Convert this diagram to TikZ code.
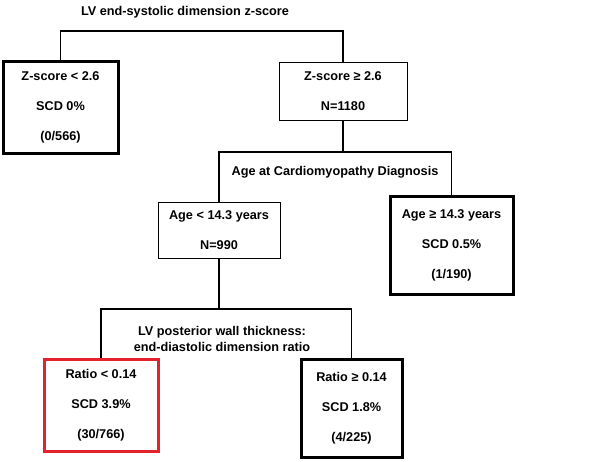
\documentclass[tikz,border=0pt]{standalone}
\usepackage{fontspec}
\setmainfont{Liberation Sans}
\usepackage{xcolor}
\definecolor{leafred}{RGB}{226, 35, 45}
\usepackage{tikz}
\usetikzlibrary{positioning}

\begin{document}
\begin{tikzpicture}[
    x=1pt, y=-1pt,
    txt/.style={font=\bfseries\fontsize{12.7}{30}\selectfont, align=center, inner sep=0pt},
    splitbox/.style={txt, draw, line width=0.9pt},
    leafbox/.style={txt, draw, line width=3pt},
    splitlbl/.style={font=\bfseries\fontsize{12.7}{16.5}\selectfont, align=center, inner sep=0pt},
    bline/.style={line width=1.6pt}
]
\useasboundingbox (0,0) rectangle (601,461);

% split labels
\node[splitlbl] (title)  at (185,12)  {LV end-systolic dimension z-score};
\node[splitlbl] (agelbl) at (335,172) {Age at Cardiomyopathy Diagnosis};
\node[splitlbl] (wallbl) at (222,339) {LV posterior wall thickness:\\end-diastolic dimension ratio};

% first split
\node[leafbox, minimum width=115pt, minimum height=92pt] (zlo) at (60.5,107) {Z-score < 2.6\\SCD 0\%\\(0/566)};
\node[splitbox, minimum width=128pt, minimum height=58pt] (zhi) at (343,91) {Z-score ≥ 2.6\\N=1180};

% second split
\node[splitbox, minimum width=122pt, minimum height=56pt] (agelo) at (219,230) {Age < 14.3 years\\N=990};
\node[leafbox, minimum width=123pt, minimum height=98pt] (agehi) at (451.5,245) {Age ≥ 14.3 years\\SCD 0.5\%\\(1/190)};

% third split
\node[leafbox, draw=leafred, minimum width=114pt, minimum height=92pt] (rlo) at (101,405) {Ratio < 0.14\\SCD 3.9\%\\(30/766)};
\node[leafbox, minimum width=101pt, minimum height=98pt] (rhi) at (351.5,408) {Ratio ≥ 0.14\\SCD 1.8\%\\(4/225)};

% connectors
\coordinate (j1) at (197,31);
\coordinate (j2) at (345,152);
\coordinate (j3) at (219,309);

\draw[bline] (zlo.north) |- (j1) -| (zhi.north);
\draw[bline] (zhi.south) -- (zhi.south |- j2);
\draw[bline] (agelo.north) |- (j2) -| (agehi.north);
\draw[bline] (agelo.south) -- (agelo.south |- j3);
\draw[bline] (rlo.north) |- (j3) -| (rhi.north);

\end{tikzpicture}
\end{document}
